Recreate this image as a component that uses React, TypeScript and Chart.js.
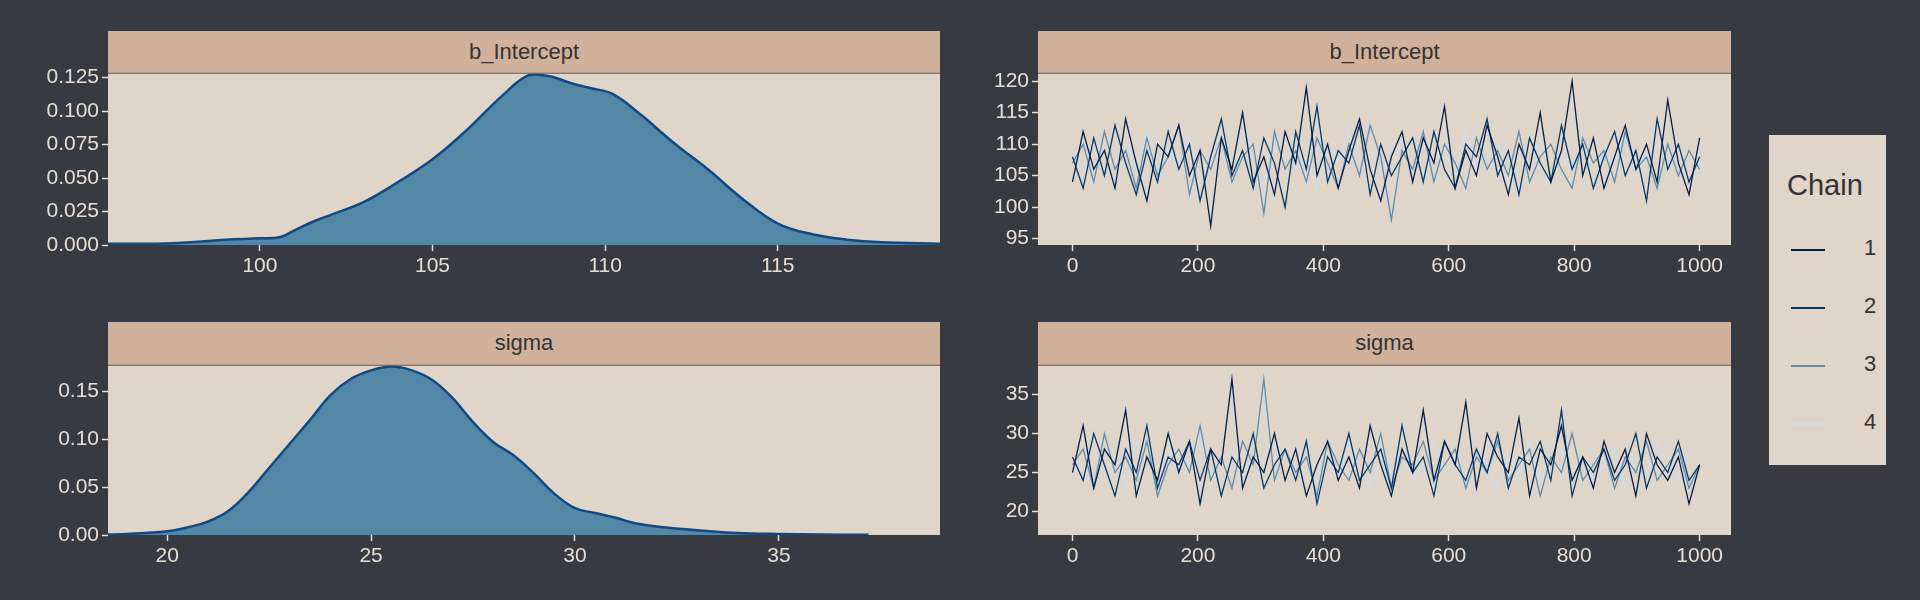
import React, { useRef, useEffect } from 'react';
import Chart from 'chart.js/auto';

// density estimates
const bDensX = [95.6, 97, 98, 99, 100, 100.6, 101, 101.5, 102, 103, 104, 105, 106, 107, 107.8, 108.4, 109, 109.6, 110.2, 111, 112, 113, 114, 115, 116, 117, 118, 119.7];
const bDensY = [0.001, 0.001, 0.002, 0.004, 0.005, 0.006, 0.011, 0.017, 0.022, 0.032, 0.047, 0.064, 0.086, 0.111, 0.127, 0.126, 0.121, 0.117, 0.113, 0.098, 0.076, 0.056, 0.034, 0.016, 0.008, 0.004, 0.002, 0.001];
const sDensX = [18.55, 19, 20, 20.5, 21, 21.5, 22, 22.5, 23, 23.5, 24, 24.5, 25, 25.5, 26, 26.5, 27, 27.5, 28, 28.5, 29, 29.5, 30, 30.5, 31, 31.5, 32, 33, 34, 35, 36, 37.2];
const sDensY = [0.0005, 0.001, 0.004, 0.008, 0.014, 0.025, 0.045, 0.07, 0.095, 0.12, 0.146, 0.163, 0.172, 0.176, 0.172, 0.162, 0.143, 0.118, 0.097, 0.083, 0.064, 0.043, 0.028, 0.023, 0.018, 0.012, 0.009, 0.005, 0.002, 0.001, 0.0005, 0.0003];

const bTicksX = [100, 105, 110, 115];
const bTicksY = [0, 0.025, 0.05, 0.075, 0.1, 0.125];
const sTicksX = [20, 25, 30, 35];
const sTicksY = [0, 0.05, 0.1, 0.15];
const iterTicks = [0, 200, 400, 600, 800, 1000];
const bTraceTicks = [95, 100, 105, 110, 115, 120];
const sTraceTicks = [20, 25, 30, 35];

const chainLabels = ['1', '2', '3', '4'];
const chainColors = ['#011f4b', '#03396c', '#5b8db0', '#cfdeea'];

const bChain1 = [104, 112, 106, 109, 103, 114, 107, 101, 110, 108, 113, 105, 109, 97, 111, 106, 115, 104, 108, 102, 112, 107, 119, 105, 110, 103, 109, 114, 106, 101, 108, 112, 104, 111, 107, 116, 103, 109, 105, 113, 108, 102, 110, 106, 115, 104, 109, 120, 105, 111, 103, 108, 113, 106, 110, 104, 117, 107, 102, 111];
const bChain2 = [108, 103, 111, 105, 113, 107, 102, 109, 104, 112, 106, 110, 101, 108, 114, 105, 109, 103, 111, 107, 100, 112, 106, 116, 104, 109, 107, 113, 102, 110, 105, 108, 111, 104, 112, 106, 103, 110, 108, 114, 105, 109, 102, 111, 107, 104, 113, 106, 110, 103, 108, 112, 105, 109, 101, 114, 106, 110, 104, 108];
const bChain3 = [107, 110, 104, 112, 106, 109, 103, 111, 105, 108, 113, 102, 109, 106, 111, 104, 108, 110, 99, 112, 106, 109, 104, 111, 107, 103, 110, 105, 113, 108, 98, 109, 106, 112, 104, 110, 107, 103, 111, 106, 109, 105, 112, 104, 108, 110, 106, 103, 111, 107, 109, 104, 112, 106, 108, 103, 110, 105, 109, 106];
const bChain4 = [109, 106, 111, 108, 104, 110, 107, 112, 105, 109, 106, 111, 104, 108, 110, 106, 112, 107, 104, 109, 111, 106, 108, 103, 110, 107, 112, 105, 109, 106, 108, 111, 104, 110, 107, 109, 105, 112, 106, 108, 110, 104, 109, 107, 111, 105, 108, 106, 110, 103, 109, 107, 112, 105, 108, 110, 106, 109, 104, 107];

const sChain1 = [25, 31, 23, 28, 26, 33, 22, 27, 24, 30, 25, 29, 21, 28, 26, 37, 23, 27, 25, 30, 24, 28, 22, 26, 29, 24, 27, 23, 31, 26, 22, 28, 25, 33, 24, 29, 26, 34, 23, 30, 27, 25, 32, 22, 28, 26, 31, 24, 27, 23, 29, 25, 28, 22, 30, 26, 24, 27, 21, 26];
const sChain2 = [27, 24, 30, 26, 22, 28, 25, 31, 23, 27, 26, 29, 24, 28, 22, 27, 25, 30, 23, 26, 28, 24, 29, 21, 27, 25, 30, 24, 26, 28, 23, 31, 25, 27, 22, 29, 26, 24, 28, 25, 30, 23, 27, 26, 29, 24, 33, 22, 27, 25, 28, 24, 26, 30, 23, 27, 25, 29, 24, 26];
const sChain3 = [26, 28, 23, 30, 25, 27, 24, 29, 22, 26, 28, 25, 31, 24, 27, 23, 29, 26, 37, 24, 28, 25, 27, 22, 29, 26, 24, 28, 25, 30, 23, 27, 26, 29, 24, 26, 28, 23, 27, 25, 29, 24, 26, 28, 22, 27, 25, 30, 24, 26, 28, 23, 27, 25, 29, 24, 26, 28, 23, 26];
const sChain4 = [26, 24, 28, 25, 27, 23, 29, 26, 24, 28, 25, 27, 30, 24, 26, 28, 25, 23, 27, 29, 24, 26, 28, 25, 27, 24, 29, 26, 23, 27, 25, 28, 24, 26, 29, 25, 27, 24, 28, 26, 23, 27, 25, 29, 24, 26, 28, 25, 27, 24, 26, 28, 23, 27, 25, 29, 26, 24, 28, 26];

const FONT = '"Liberation Sans", Arial, sans-serif';
const TICK_COLOR = '#e6ddd3';
const PANEL_BG = '#e0d5c9';
const STRIP_BG = '#d0b19b';

const toXY = (xs: number[], ys: number[]) => xs.map((x, i) => ({ x, y: ys[i] }));
const toTrace = (ys: number[]) => ys.map((y, i) => ({ x: (i * 1000) / (ys.length - 1), y }));

const PAD_TOP = 15;
const PAD_RIGHT = 30;
const X_AXIS_H = 40;

const bgPlugin = {
  id: 'panelBg',
  beforeDraw(chart: any) {
    const { ctx, chartArea } = chart;
    ctx.save();
    ctx.fillStyle = PANEL_BG;
    ctx.fillRect(chartArea.left, chartArea.top, chartArea.right - chartArea.left, chartArea.bottom - chartArea.top);
    ctx.restore();
  },
};

function axis(min: number, max: number, ticks: number[], isY: boolean, size: number, fmt?: (v: number) => string) {
  return {
    type: 'linear',
    min,
    max,
    border: { display: false },
    grid: { drawOnChartArea: false, drawTicks: true, tickLength: 6, tickWidth: 1.5, tickColor: TICK_COLOR },
    ticks: {
      color: TICK_COLOR,
      font: { family: FONT, size: 21 },
      padding: 3,
      autoSkip: false,
      maxRotation: 0,
      callback: (v: any) => (fmt ? fmt(v) : String(v)),
    },
    afterBuildTicks: (a: any) => {
      a.ticks = ticks.map((v) => ({ value: v }));
    },
    afterFit: (a: any) => {
      if (isY) a.width = size;
      else a.height = size;
    },
  };
}

interface PanelProps {
  left: number;
  top: number;
  width: number;
  height: number;
  yAxisW: number;
  stripTop: number;
  title: string;
  config: any;
}

const Panel: React.FC<PanelProps> = ({ left, top, width, height, yAxisW, stripTop, title, config }) => {
  const ref = useRef<HTMLCanvasElement>(null);
  useEffect(() => {
    if (!ref.current) return;
    const chart = new Chart(ref.current, config);
    return () => chart.destroy();
  }, [config]);
  return (
    <>
      <div
        style={{
          position: 'absolute', left, top: stripTop, width, height: top - stripTop,
          background: STRIP_BG, color: '#333', fontFamily: FONT, fontSize: 22,
          display: 'flex', alignItems: 'center', justifyContent: 'center',
          borderBottom: '1px solid #b89d88', boxSizing: 'border-box',
        }}
      >
        {title}
      </div>
      <div
        style={{
          position: 'absolute', left: left - yAxisW, top: top - PAD_TOP,
          width: yAxisW + width + PAD_RIGHT, height: PAD_TOP + height + X_AXIS_H,
        }}
      >
        <canvas ref={ref} />
      </div>
    </>
  );
};

function densityConfig(xs: number[], ys: number[], xMin: number, xMax: number, yMax: number, xt: number[], yt: number[], yAxisW: number) {
  return {
    type: 'line',
    data: {
      datasets: [{
        data: toXY(xs, ys),
        borderColor: '#0d4a8a',
        backgroundColor: '#5387a6',
        borderWidth: 2.5,
        fill: 'origin',
        pointRadius: 0,
        tension: 0.4,
      }],
    },
    options: {
      animation: false,
      responsive: true,
      maintainAspectRatio: false,
      layout: { padding: { top: PAD_TOP, right: PAD_RIGHT, left: 0, bottom: 0 } },
      plugins: { legend: { display: false }, tooltip: { enabled: false } },
      scales: {
        x: axis(xMin, xMax, xt, false, X_AXIS_H),
        y: axis(0, yMax, yt, true, yAxisW, (v) => (yMax < 0.15 ? v.toFixed(3) : v.toFixed(2))),
      },
    },
    plugins: [bgPlugin],
  };
}

function traceConfig(chains: number[][], yMin: number, yMax: number, yt: number[], yAxisW: number) {
  return {
    type: 'line',
    data: {
      datasets: chains.map((c, i) => ({
        label: chainLabels[i],
        data: toTrace(c),
        borderColor: chainColors[i],
        borderWidth: 1.3,
        pointRadius: 0,
        fill: false,
        tension: 0,
      })),
    },
    options: {
      animation: false,
      responsive: true,
      maintainAspectRatio: false,
      layout: { padding: { top: PAD_TOP, right: PAD_RIGHT, left: 0, bottom: 0 } },
      plugins: { legend: { display: false }, tooltip: { enabled: false } },
      scales: {
        x: axis(-55, 1050, iterTicks, false, X_AXIS_H),
        y: axis(yMin, yMax, yt, true, yAxisW),
      },
    },
    plugins: [bgPlugin],
  };
}

const cfgB = densityConfig(bDensX, bDensY, 95.6, 119.7, 0.128, bTicksX, bTicksY, 108);
const cfgS = densityConfig(sDensX, sDensY, 18.55, 38.95, 0.177, sTicksX, sTicksY, 108);
const cfgBT = traceConfig([bChain1, bChain2, bChain3, bChain4], 94, 121.2, bTraceTicks, 80);
const cfgST = traceConfig([sChain1, sChain2, sChain3, sChain4], 17, 38.7, sTraceTicks, 80);

export default function App() {
  return (
    <div style={{ position: 'fixed', left: 0, top: 0, width: 1920, height: 600, background: '#373a40', overflow: 'hidden' }}>
      <Panel left={108} top={73} width={832} height={172} yAxisW={108} stripTop={31} title="b_Intercept" config={cfgB} />
      <Panel left={108} top={365} width={832} height={170} yAxisW={108} stripTop={322} title="sigma" config={cfgS} />
      <Panel left={1038} top={73} width={693} height={172} yAxisW={80} stripTop={31} title="b_Intercept" config={cfgBT} />
      <Panel left={1038} top={365} width={693} height={170} yAxisW={80} stripTop={322} title="sigma" config={cfgST} />
      <div
        style={{
          position: 'absolute', left: 1769, top: 135, width: 117, height: 330,
          background: PANEL_BG, fontFamily: FONT, color: '#333',
        }}
      >
        <div style={{ position: 'absolute', left: 18, top: 34, fontSize: 29 }}>Chain</div>
        {chainLabels.map((l, i) => (
          <div key={l} style={{ position: 'absolute', left: 0, top: 100 + i * 58, width: 117, height: 30 }}>
            <div style={{ position: 'absolute', left: 22, top: 14, width: 34, height: 2, background: chainColors[i] }} />
            <div style={{ position: 'absolute', left: 95, top: 0, fontSize: 22 }}>{l}</div>
          </div>
        ))}
      </div>
    </div>
  );
}
